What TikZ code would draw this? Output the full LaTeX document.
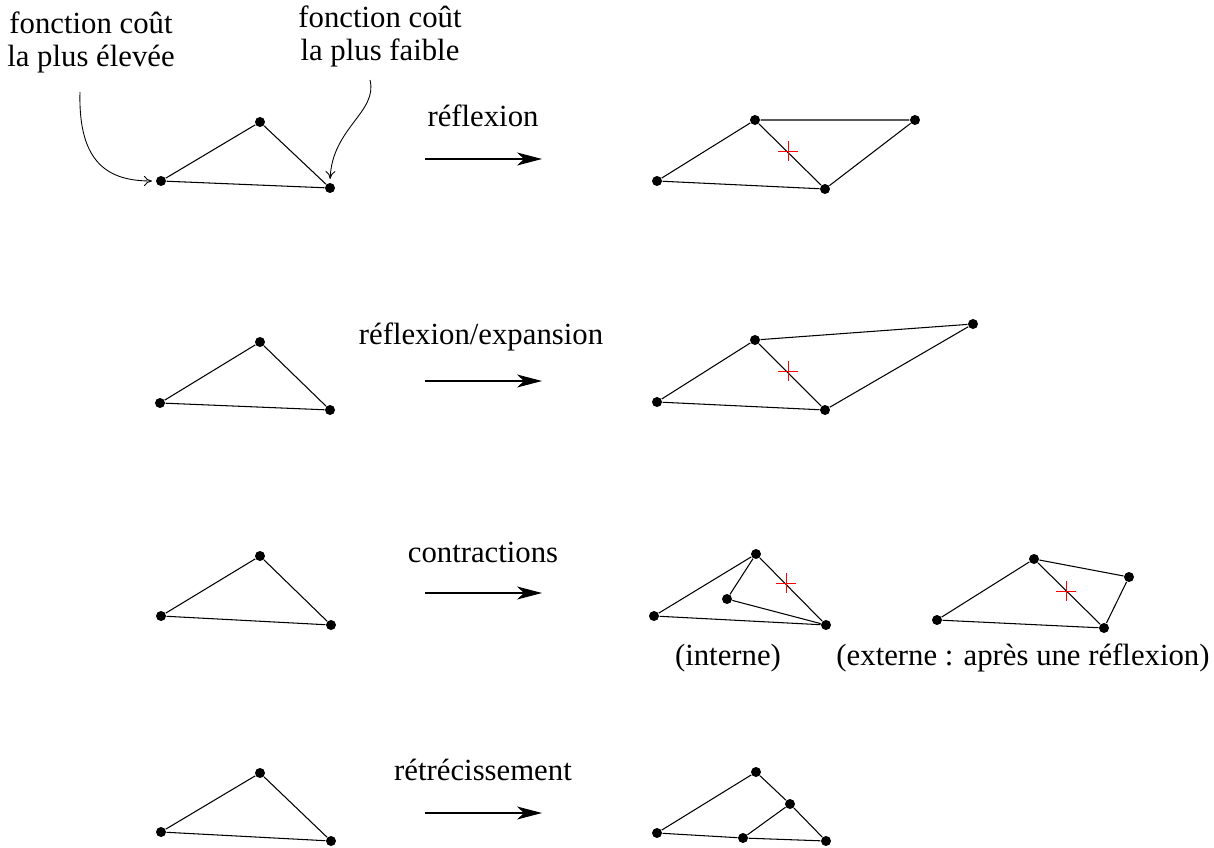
\documentclass[tikz,border=0pt]{standalone}
\usepackage{fontspec}
\setmainfont{Liberation Serif}
\usetikzlibrary{arrows.meta,shapes.misc,positioning}
\tikzset{
  pt/.style={circle, fill=black, inner sep=0pt, minimum size=0.2cm},
  redplus/.style={cross out, draw=red, line width=0.5pt, inner sep=0pt, minimum size=0.26cm, rotate=45},
  lbl/.style={font=\fontsize{17.5}{18.8}\selectfont, align=center, inner sep=0pt},
  bigarrow/.style={-{Stealth[length=0.5cm,width=0.26cm,inset=0.14cm]}, line width=0.6pt},
  curly/.style={-{To[length=0.16cm,width=0.2cm]}, line width=0.5pt, shorten >=2pt}
}
\begin{document}
\begin{tikzpicture}[x=0.02cm, y=-0.02cm, line width=0.6pt]
	\useasboundingbox (0,0) rectangle (1214,848);
	
	%%%%% labels on top %%%%%
	\node[lbl] (high) at (91,42) {fonction coût\\la plus élevée};
	\node[lbl] (low) at (380,36) {fonction coût\\la plus faible};
	\coordinate (hightail) at (80,92);
	\coordinate (lowtail) at (370,80);
	
	%%%%% row 1 : reflexion %%%%%
	\node[pt] (a1) at (161,181) {};
	\node[pt] (b1) at (260,122) {};
	\node[pt] (c1) at (330,188) {};
	\draw (a1) -- (b1) -- (c1) -- (a1);
	\draw[curly] (hightail) .. controls (78,165) and (110,181) .. (a1.west);
	\draw[curly] (lowtail) .. controls (378,112) and (332,128) .. (c1.north);
	
	\coordinate (s1) at (425,159);
	\coordinate (e1) at (542,159);
	\draw[bigarrow] (s1) -- (e1);
	\node[lbl] (t1) at (483,116) {réflexion};
	
	\node[pt] (ra1) at (657,181) {};
	\node[pt] (rb1) at (755,120) {};
	\node[pt] (rc1) at (825,189) {};
	\node[pt] (rd1) at (915,120) {};
	\draw (ra1) -- (rb1) -- (rc1) -- (ra1);
	\draw (rb1) -- (rd1) -- (rc1);
	\node[redplus] (x1) at (788,151) {};
	
	%%%%% row 2 : reflexion/expansion %%%%%
	\node[pt] (a2) at (160,403) {};
	\node[pt] (b2) at (260,342) {};
	\node[pt] (c2) at (330,410) {};
	\draw (a2) -- (b2) -- (c2) -- (a2);
	
	\coordinate (s2) at (425,381);
	\coordinate (e2) at (542,381);
	\draw[bigarrow] (s2) -- (e2);
	\node[lbl] (t2) at (481,337) {réflexion/expansion};
	
	\node[pt] (ra2) at (657,402) {};
	\node[pt] (rb2) at (755,340) {};
	\node[pt] (rc2) at (825,410) {};
	\node[pt] (rd2) at (973,324) {};
	\draw (ra2) -- (rb2) -- (rc2) -- (ra2);
	\draw (rb2) -- (rd2) -- (rc2);
	\node[redplus] (x2) at (788,371) {};
	
	%%%%% row 3 : contractions %%%%%
	\node[pt] (a3) at (161,616) {};
	\node[pt] (b3) at (260,556) {};
	\node[pt] (c3) at (331,625) {};
	\draw (a3) -- (b3) -- (c3) -- (a3);
	
	\coordinate (s3) at (425,593);
	\coordinate (e3) at (542,593);
	\draw[bigarrow] (s3) -- (e3);
	\node[lbl] (t3) at (483,552) {contractions};
	
	% interne
	\node[pt] (ra3) at (654,616) {};
	\node[pt] (rb3) at (756,554) {};
	\node[pt] (rc3) at (826,625) {};
	\node[pt] (ri3) at (727,599) {};
	\draw (ra3) -- (rb3) -- (rc3) -- (ra3);
	\draw (rb3) -- (ri3) -- (rc3);
	\node[redplus] (x3) at (786,583) {};
	\node[lbl] (int) at (728,658) {(interne)};
	
	% externe
	\node[pt] (ea3) at (937,620) {};
	\node[pt] (eb3) at (1034,559) {};
	\node[pt] (ec3) at (1104,628) {};
	\node[pt] (ee3) at (1129,577) {};
	\draw (ea3) -- (eb3) -- (ec3) -- (ea3);
	\draw (eb3) -- (ee3) -- (ec3);
	\node[redplus] (y3) at (1066,591) {};
	\node[lbl] (ext) at (1023,658) {(externe : après une réflexion)};
	
	%%%%% row 4 : retrecissement %%%%%
	\node[pt] (a4) at (161,832) {};
	\node[pt] (b4) at (260,773) {};
	\node[pt] (c4) at (331,841) {};
	\draw (a4) -- (b4) -- (c4) -- (a4);
	
	\coordinate (s4) at (425,813);
	\coordinate (e4) at (542,813);
	\draw[bigarrow] (s4) -- (e4);
	\node[lbl] (t4) at (483,770) {rétrécissement};
	
	\node[pt] (ra4) at (657,833) {};
	\node[pt] (rb4) at (756,772) {};
	\node[pt] (rc4) at (826,841) {};
	\node[pt] (rm4) at (790,804) {};
	\node[pt] (rn4) at (743,838) {};
	\draw (ra4) -- (rb4) -- (rm4) -- (rc4) -- (rn4) -- (ra4);
	\draw (rm4) -- (rn4);
	
	%%%%% END %%%%%
\end{tikzpicture}
\end{document}
